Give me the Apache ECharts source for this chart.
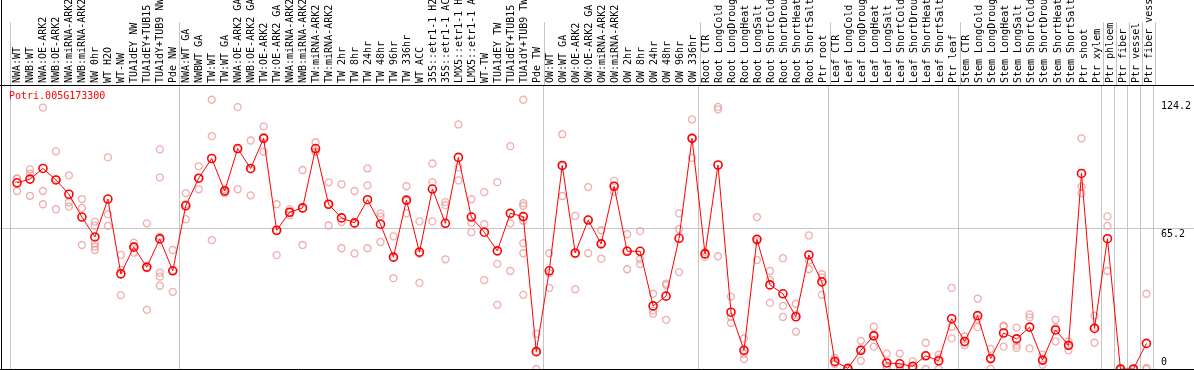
<!DOCTYPE html>
<html>
<head>
<meta charset="utf-8">
<script src="https://cdn.jsdelivr.net/npm/echarts@6/dist/echarts.min.js"></script>
<style>
  html, body { margin: 0; padding: 0; background: #ffffff; }
  #chart { width: 1194px; height: 370px; }
</style>
</head>
<body>
<div id="chart"></div>
<script>
// ---- data ----
const geneName = "Potri.005G173300";

const categories = [
  "NWA:WT", "NWB:WT", "NWA:OE-ARK2", "NWB:OE-ARK2", "NWA:miRNA-ARK2", "NWB:miRNA-ARK2",
  "NW 0hr", "WT H2O", "WT-NW", "TUA1dEY NW", "TUA1dEY+TUB15 NW", "TUA1dY+TUB9 NW", "Pde NW",
  "NWA:WT GA", "NWBWT GA", "TW:WT", "TW:WT GA", "NWA:OE-ARK2 GA", "NWB:OE-ARK2 GA",
  "TW:OE-ARK2", "TW:OE-ARK2 GA", "NWA:miRNA-ARK2 GA", "NWB:miRNA-ARK2 GA", "TW:miRNA-ARK2",
  "TW:miRNA-ARK2 GA", "TW 2hr", "TW 8hr", "TW 24hr", "TW 48hr", "TW 96hr", "TW 336hr",
  "WT ACC", "35S::etr1-1 H2O", "35S::etr1-1 ACC", "LMX5::etr1-1 H2O", "LMX5::etr1-1 ACC",
  "WT-TW", "TUA1dEY TW", "TUA1dEY+TUB15 TW", "TUA1dY+TUB9 TW", "Pde TW",
  "OW:WT", "OW:WT GA", "OW:OE-ARK2", "OW:OE-ARK2 GA", "OW:miRNA-ARK2", "OW:miRNA-ARK2 GA",
  "OW 2hr", "OW 8hr", "OW 24hr", "OW 48hr", "OW 96hr", "OW 336hr",
  "Root CTR", "Root LongCold", "Root LongDrought", "Root LongHeat", "Root LongSalt",
  "Root ShortCold", "Root ShortDrought", "Root ShortHeat", "Root ShortSalt", "Ptr root",
  "Leaf CTR", "Leaf LongCold", "Leaf LongDrought", "Leaf LongHeat", "Leaf LongSalt",
  "Leaf ShortCold", "Leaf ShortDrought", "Leaf ShortHeat", "Leaf ShortSalt", "Ptr leaf",
  "Stem CTR", "Stem LongCold", "Stem LongDrought", "Stem LongHeat", "Stem LongSalt",
  "Stem ShortCold", "Stem ShortDrought", "Stem ShortHeat", "Stem ShortSalt", "Ptr shoot",
  "Ptr xylem", "Ptr phloem", "Ptr fiber", "Ptr vessel", "Ptr fiber vessel"
];

// first category index of each group (separator lines), plus the end
const groupStarts = [0, 13, 41, 53, 63, 73, 84, 85, 86, 87];

const meanValues = [
  85.9, 87.6, 92.5, 87.2, 80.6, 70.1, 60.9, 78.4, 43.9, 56.2, 47.0, 60.0, 45.3,
  75.3, 88.0, 97.1, 82.1, 101.7, 92.5, 106.4, 64.0, 72.3, 74.3, 101.7, 76.0, 69.7,
  67.4, 78.1, 66.8, 51.6, 77.9, 53.9, 83.0, 67.2, 97.6, 70.1, 63.1, 54.5, 71.8, 70.3, 8.0,
  45.3, 93.9, 53.5, 68.7, 57.7, 84.3, 54.3, 54.3, 29.1, 33.6, 60.3, 106.4,
  53.1, 94.1, 26.2, 8.6, 59.8, 38.8, 34.7, 24.1, 52.6, 40.2,
  3.5, 0.3, 8.6, 15.3, 2.8, 2.4, 1.2, 6.1, 3.8, 23.2,
  12.7, 24.6, 4.8, 16.6, 13.9, 19.3, 4.1, 18.0, 10.9, 90.2, 18.7,
  60.1, 0, 0, 11.8
];

const replicateValues = [
  [87.9, 87.7, 82.1], [92.1, 90.2, 79.9], [120.6, 82.1, 76.0], [100.4, 87.5, 73.7],
  [89.3, 76.9, 74.9], [78.4, 74.3, 57.2], [68.0, 66.1, 58.0, 56.5, 54.9], [97.6, 71.4, 66.0],
  [52.6, 45.7, 34.1], [58.3, 56.6, 53.7], [67.2, 46.5, 27.3], [101.3, 88.4, 61.0, 44.5, 42.6, 38.4],
  [54.9, 45.4, 35.6],
  [81.1, 76.0, 69.1], [93.5, 88.0, 82.9], [124.2, 107.4, 59.4], [83.0, 82.1, 81.2],
  [120.8, 101.4, 82.9], [105.4, 92.0, 80.1], [111.9, 107.0, 100.2], [76.0, 63.5, 52.5],
  [73.7, 72.3, 70.9], [91.8, 74.0, 57.2], [104.6, 100.3, 100.2], [86.1, 76.0, 66.2],
  [85.2, 67.8, 55.7], [82.1, 67.0, 53.3], [92.5, 84.7, 55.7], [71.8, 70.3, 58.6],
  [61.2, 51.5, 41.9], [84.3, 77.6, 71.8], [68.1, 53.1, 39.7], [94.8, 86.2, 68.1],
  [77.0, 75.6, 50.6], [112.8, 93.0, 87.0], [78.3, 67.5, 63.1], [81.6, 66.8, 41.0],
  [86.2, 48.5, 29.6], [102.8, 67.2, 45.2], [124.2, 76.5, 75.3, 68.4, 58.0, 53.4, 34.2],
  [16.2, 7.8, 0],
  [53.4, 44.2, 37.4], [108.3, 93.6, 79.8], [70.6, 53.0, 36.8], [83.9, 68.9, 53.4],
  [64.0, 58.0, 50.9], [86.8, 84.5, 81.6], [62.2, 54.7, 46.0], [63.6, 50.6, 48.4],
  [34.7, 26.9, 25.5], [39.4, 38.7, 22.7], [71.8, 64.5, 44.7], [115.1, 106.6, 97.4],
  [54.0, 53.0, 51.7], [120.9, 119.8, 52.0], [33.4, 24.0, 21.2], [14.1, 7.0, 4.6],
  [70.1, 59.0, 50.3], [45.2, 41.1, 30.5], [51.1, 29.1, 24.0], [30.1, 25.0, 17.2],
  [61.6, 50.0, 46.0], [43.7, 42.3, 34.2],
  [5.1, 3.0, 2.3], [0.5, 0.3, 0], [13.0, 9.0, 3.8], [19.5, 16.0, 10.3], [7.1, 1.2, 0.5],
  [7.1, 1.0, 0], [3.5, 0.2, 0], [12.1, 6.1, 0], [6.6, 4.9, 0], [37.4, 19.5, 14.1],
  [15.0, 12.2, 10.9], [32.5, 23.0, 19.3], [9.3, 5.0, 0], [20.0, 19.6, 10.3],
  [19.1, 11.0, 9.8], [25.2, 23.8, 9.5], [6.6, 4.0, 2.0], [22.7, 19.0, 12.7],
  [12.7, 11.0, 8.6], [106.4, 84.1, 81.1], [24.6, 19.3, 12.1],
  [70.4, 66.0, 45.2], [0, 0, 0], [0, 0, 0], [34.7, 0.5, 0]
];

const yTickValues = [0, 65.2, 124.2];
const yMax = 131;
const refLineValue = 65.2;

// ---- chart ----
const FONT = "DejaVu Sans Mono";
const GRID_LEFT = 10.5, GRID_RIGHT = 38.5;

const replicatePoints = [];
replicateValues.forEach((arr, i) => arr.forEach(v => replicatePoints.push([i, v])));

const splitInterval = (idx) => groupStarts.indexOf(idx) !== -1;
const gray = "#c4c4c4";

const chart = echarts.init(document.getElementById("chart"), null, { renderer: "canvas" });

const option = {
  animation: false,
  backgroundColor: "#ffffff",
  title: {
    text: geneName,
    left: 9, top: 91, padding: 0,
    textStyle: { fontFamily: FONT, fontSize: 10, fontWeight: "normal", color: "#ff0000" }
  },
  grid: [
    { left: GRID_LEFT, right: GRID_RIGHT, top: 0, height: 85 },
    { left: GRID_LEFT, right: GRID_RIGHT, top: 85, bottom: 1 }
  ],
  xAxis: [
    {
      gridIndex: 0, type: "category", data: categories, position: "bottom",
      boundaryGap: true,
      axisLine: { show: false }, axisTick: { show: false },
      axisLabel: {
        inside: true, rotate: 90, interval: 0, margin: 2,
        fontFamily: FONT, fontSize: 10, color: "#000000"
      },
      splitLine: { show: true, interval: splitInterval, lineStyle: { color: gray, width: 1 } }
    },
    {
      gridIndex: 1, type: "category", data: categories, position: "bottom",
      boundaryGap: true,
      axisLine: { show: false }, axisTick: { show: false }, axisLabel: { show: false },
      splitLine: { show: true, interval: splitInterval, lineStyle: { color: gray, width: 1 } }
    }
  ],
  yAxis: [
    { gridIndex: 0, type: "value", show: false },
    {
      gridIndex: 1, type: "value", position: "right", min: 0, max: yMax,
      axisLine: { show: false }, axisTick: { show: false },
      splitLine: { show: false },
      axisLabel: {
        customValues: yTickValues,
        margin: 8,
        formatter: (v) => (v === 0 ? "{b|0}" : "{t|" + v + "}"),
        rich: {
          t: { fontFamily: FONT, fontSize: 10, color: "#000000", padding: [13, 0, 0, 0] },
          b: { fontFamily: FONT, fontSize: 10, color: "#000000", padding: [0, 0, 13, 0] }
        }
      }
    }
  ],
  series: [
    {
      name: "replicates", type: "scatter", xAxisIndex: 1, yAxisIndex: 1,
      data: replicatePoints, symbol: "circle", symbolSize: 7, z: 2,
      itemStyle: { color: "rgba(255,255,255,0)", borderColor: "#ec9a9a", borderWidth: 1.3 }
    },
    {
      name: "mean", type: "line", xAxisIndex: 1, yAxisIndex: 1,
      data: meanValues, symbol: "circle", symbolSize: 8, showSymbol: true, z: 3,
      lineStyle: { color: "#ff0000", width: 1 },
      itemStyle: { color: "rgba(255,255,255,0)", borderColor: "#ff0000", borderWidth: 1.6 }
    }
  ]
};
chart.setOption(option);

// frame lines and the full-width reference line (y from the library's scale)
const yRef = chart.convertToPixel({ yAxisIndex: 1 }, refLineValue);
const W = 1194;
chart.setOption({
  graphic: [
    { type: "line", z: 0, silent: true, shape: { x1: 0, y1: Math.round(yRef) + 0.5, x2: W, y2: Math.round(yRef) + 0.5 }, style: { stroke: gray, lineWidth: 1 } },
    { type: "line", z: 10, silent: true, shape: { x1: 0, y1: 85.5, x2: W, y2: 85.5 }, style: { stroke: "#000", lineWidth: 1 } },
    { type: "line", z: 10, silent: true, shape: { x1: 0, y1: 369.5, x2: W, y2: 369.5 }, style: { stroke: "#000", lineWidth: 1 } },
    { type: "line", z: 10, silent: true, shape: { x1: 1.5, y1: 0, x2: 1.5, y2: 370 }, style: { stroke: "#000", lineWidth: 1 } }
  ]
});
</script>
</body>
</html>
